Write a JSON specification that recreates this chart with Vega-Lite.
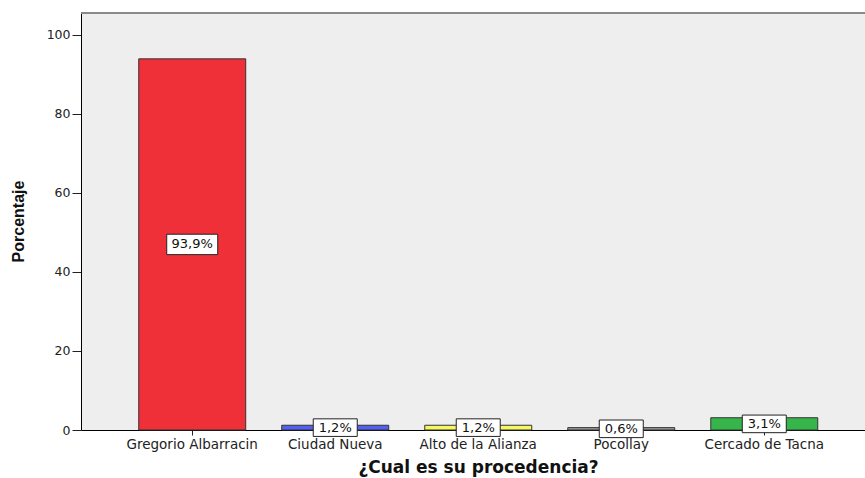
{
  "$schema": "https://vega.github.io/schema/vega-lite/v6.json",
  "width": 784,
  "height": 417,
  "autosize": {"type": "none"},
  "padding": {"left": 81, "top": 13, "right": 0, "bottom": 48},
  "background": "#ffffff",
  "config": {
    "view": {"fill": "#eeeeee", "stroke": null},
    "font": "DejaVu Sans"
  },
  "data": {
    "values": [
      {"procedencia": "Gregorio Albarracin", "porcentaje": 93.9, "label": "93,9%"},
      {"procedencia": "Ciudad Nueva", "porcentaje": 1.2, "label": "1,2%"},
      {"procedencia": "Alto de la Alianza", "porcentaje": 1.2, "label": "1,2%"},
      {"procedencia": "Pocollay", "porcentaje": 0.6, "label": "0,6%"},
      {"procedencia": "Cercado de Tacna", "porcentaje": 3.1, "label": "3,1%"}
    ]
  },
  "encoding": {
    "x": {
      "field": "procedencia",
      "type": "nominal",
      "sort": null,
      "scale": {"paddingInner": 0.252, "paddingOuter": 0.367, "align": 0.55},
      "axis": {
        "title": "¿Cual es su procedencia?",
        "titleFont": "DejaVu Sans",
        "titleFontSize": 17,
        "titleFontWeight": "bold",
        "titleColor": "#111111",
        "titleX": 397,
        "titleY": 37,
        "titleBaseline": "middle",
        "titleAnchor": "start",
        "titleAlign": "center",
        "labelAngle": 0,
        "labelFont": "DejaVu Sans",
        "labelFontSize": 13.5,
        "labelColor": "#222222",
        "labelPadding": 2,
        "tickSize": 5,
        "tickColor": "#222222",
        "domainColor": "#000000",
        "domainWidth": 1
      }
    }
  },
  "layer": [
    {
      "mark": {"type": "rule", "color": "#8a8a8a", "strokeWidth": 2},
      "encoding": {
        "x": null,
        "y": {"datum": 105.5, "type": "quantitative", "scale": {"domain": [0, 105.5], "nice": false}}
      }
    },
    {
      "mark": {"type": "bar", "stroke": "#333333", "strokeWidth": 1},
      "encoding": {
        "y": {
          "field": "porcentaje",
          "type": "quantitative",
          "scale": {"domain": [0, 105.5], "nice": false},
          "axis": {
            "title": "Porcentaje",
            "titleFont": "Liberation Sans",
            "titleFontSize": 16,
            "titleFontWeight": "bold",
            "titleColor": "#111111",
            "titleX": -63,
            "titleY": 208,
            "titleAngle": -90,
            "titleBaseline": "middle",
            "titleAlign": "center",
            "titleAnchor": "start",
            "values": [0, 20, 40, 60, 80, 100],
            "grid": false,
            "labelFont": "DejaVu Sans",
            "labelFontSize": 12.5,
            "labelColor": "#222222",
            "labelPadding": 2,
            "tickSize": 9,
            "tickColor": "#222222",
            "domainColor": "#000000",
            "domainWidth": 1
          }
        },
        "color": {
          "field": "procedencia",
          "type": "nominal",
          "sort": null,
          "scale": {
            "domain": ["Gregorio Albarracin", "Ciudad Nueva", "Alto de la Alianza", "Pocollay", "Cercado de Tacna"],
            "range": ["#ef3039", "#5560f0", "#f7f765", "#9a9a9a", "#36b54a"]
          },
          "legend": null
        }
      }
    },
    {
      "transform": [{"calculate": "datum.porcentaje / 2", "as": "mid"}],
      "mark": {
        "type": "point",
        "shape": "M-1,-0.4H1V0.4H-1Z",
        "filled": true,
        "fill": "#ffffff",
        "stroke": "#222222",
        "strokeWidth": 1,
        "opacity": 1
      },
      "encoding": {
        "y": {"field": "mid", "type": "quantitative", "scale": {"domain": [0, 105.5], "nice": false}},
        "size": {"condition": {"test": "datum.porcentaje > 10", "value": 2601}, "value": 1936}
      }
    },
    {
      "transform": [{"calculate": "datum.porcentaje / 2", "as": "mid"}],
      "mark": {"type": "text", "font": "DejaVu Sans", "fontSize": 13, "color": "#111111", "baseline": "middle", "align": "center"},
      "encoding": {
        "y": {"field": "mid", "type": "quantitative", "scale": {"domain": [0, 105.5], "nice": false}},
        "text": {"field": "label"}
      }
    }
  ]
}
